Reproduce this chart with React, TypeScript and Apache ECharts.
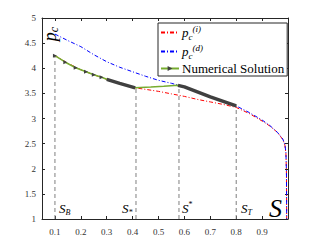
import React, { useEffect, useRef } from "react";
import * as echarts from "echarts";

const xTicks = [0.1, 0.2, 0.3, 0.4, 0.5, 0.6, 0.7, 0.8, 0.9];

const redX = [0.1, 0.15, 0.2, 0.25, 0.3, 0.35, 0.41, 0.45, 0.5, 0.55, 0.6, 0.65, 0.7, 0.75, 0.8, 0.85, 0.9, 0.93, 0.96, 0.98, 0.988, 0.992, 0.994, 0.995];
const redY = [4.25, 4.1, 3.97, 3.87, 3.78, 3.7, 3.61, 3.58, 3.54, 3.49, 3.44, 3.38, 3.33, 3.28, 3.22, 3.1, 2.95, 2.85, 2.72, 2.58, 2.47, 2.3, 1.9, 1.0];

const blueX = [0.1, 0.15, 0.2, 0.25, 0.3, 0.35, 0.4, 0.45, 0.5, 0.55, 0.6, 0.65, 0.7, 0.75, 0.8, 0.85, 0.9, 0.93, 0.96, 0.98, 0.988, 0.992, 0.994, 0.995];
const blueY = [4.68, 4.55, 4.43, 4.27, 4.13, 4.02, 3.93, 3.84, 3.76, 3.7, 3.63, 3.53, 3.43, 3.34, 3.25, 3.12, 2.97, 2.86, 2.72, 2.59, 2.48, 2.32, 1.95, 1.0];

const numX = [0.1, 0.14, 0.18, 0.22, 0.25, 0.28, 0.31, 0.35, 0.41, 0.47, 0.52, 0.575, 0.6, 0.65, 0.7, 0.75, 0.8];
const numY = [4.25, 4.12, 4.01, 3.93, 3.87, 3.82, 3.76, 3.7, 3.61, 3.625, 3.64, 3.66, 3.63, 3.53, 3.43, 3.34, 3.25];
const numMarker = [true, true, true, true, true, true, false, false, false, false, false, false, false, false, false, false, false];

const denseX1 = [0.3, 0.35, 0.41];
const denseY1 = [3.78, 3.7, 3.61];
const denseX2 = [0.575, 0.6, 0.65, 0.7, 0.75, 0.8];
const denseY2 = [3.66, 3.63, 3.53, 3.43, 3.34, 3.25];

const guideX = [0.1, 0.413, 0.579, 0.8];
const guideTop = [4.25, 3.61, 3.66, 3.25];

const SERIF = "Liberation Serif, Times New Roman, serif";

export default function App() {
  const ref = useRef<HTMLDivElement>(null);
  useEffect(() => {
    if (!ref.current) return;
    document.body.style.margin = "0";
    const chart = echarts.init(ref.current, null, { renderer: "svg" });
    const axisColor = "#262626";
    const legendRich = {
      p: { fontFamily: SERIF, fontStyle: "italic", fontSize: 13, color: "#000", lineHeight: 17, verticalAlign: "middle" },
      c: { fontFamily: SERIF, fontStyle: "italic", fontSize: 9, color: "#000", lineHeight: 17, verticalAlign: "bottom" },
      s: { fontFamily: SERIF, fontStyle: "italic", fontSize: 9, color: "#000", lineHeight: 17, verticalAlign: "top" },
      t: { fontFamily: SERIF, fontSize: 13, color: "#000", lineHeight: 17, verticalAlign: "middle" },
    };
    const guideSeries = guideX.map((x, i) => ({
      type: "line",
      name: "guide" + i,
      data: [[x, 1], [x, guideTop[i]]],
      symbol: "none",
      lineStyle: { color: "#7f7f7f", width: 1, type: [4, 3] },
      silent: true,
      z: 1,
    }));
    const hiddenMark = { color: "rgba(0,0,0,0)", borderWidth: 0, opacity: 0 };
    const option: any = {
      animation: false,
      backgroundColor: "#fff",
      textStyle: { fontFamily: SERIF },
      grid: { left: 42, top: 18, width: 246, height: 201, containLabel: false },
      xAxis: [
        {
          type: "value", min: 0.05, max: 1, position: "bottom",
          axisLine: { show: true, lineStyle: { color: axisColor, width: 1 } },
          axisTick: { show: true, inside: true, length: 3, customValues: xTicks, lineStyle: { color: axisColor } },
          axisLabel: { show: true, customValues: xTicks, margin: 8, fontFamily: SERIF, fontSize: 9, color: "#333", formatter: (v: number) => String(Math.round(v * 10) / 10) },
          splitLine: { show: false },
        },
        {
          type: "value", min: 0.05, max: 1, position: "top",
          axisLine: { show: true, lineStyle: { color: axisColor, width: 1 } },
          axisTick: { show: true, inside: true, length: 3, customValues: xTicks, lineStyle: { color: axisColor } },
          axisLabel: { show: false },
          splitLine: { show: false },
        },
      ],
      yAxis: [
        {
          type: "value", min: 1, max: 5, interval: 0.5, position: "left",
          axisLine: { show: true, lineStyle: { color: axisColor, width: 1 } },
          axisTick: { show: true, inside: true, length: 3, lineStyle: { color: axisColor } },
          axisLabel: { show: true, margin: 6, fontFamily: SERIF, fontSize: 9, color: "#333" },
          splitLine: { show: false },
        },
        {
          type: "value", min: 1, max: 5, interval: 0.5, position: "right",
          axisLine: { show: true, lineStyle: { color: axisColor, width: 1 } },
          axisTick: { show: true, inside: true, length: 3, lineStyle: { color: axisColor } },
          axisLabel: { show: false },
          splitLine: { show: false },
        },
      ],
      legend: {
        show: true,
        orient: "vertical",
        left: 158,
        top: 23,
        itemWidth: 18,
        itemHeight: 6,
        itemGap: 2,
        padding: [1, 3, 1, 2],
        backgroundColor: "#fff",
        borderColor: axisColor,
        borderWidth: 1,
        selectedMode: false,
        data: [
          { name: "p_c^(i)", itemStyle: hiddenMark },
          { name: "p_c^(d)", itemStyle: hiddenMark },
          { name: "Numerical Solution" },
        ],
        formatter: (name: string) => {
          if (name === "p_c^(i)") return "{p|p}{c|c}{s|(i)}";
          if (name === "p_c^(d)") return "{p|p}{c|c}{s|(d)}";
          return "{t|Numerical Solution}";
        },
        textStyle: { fontFamily: SERIF, rich: legendRich, padding: [0, 0, 0, -2] },
      },
      graphic: [
        {
          type: "text", x: 50, y: 34, rotation: Math.PI / 2, z: 10,
          style: {
            text: "{p|p}{c|c}", align: "center", verticalAlign: "middle",
            rich: {
              p: { fontFamily: SERIF, fontStyle: "italic", fontSize: 18, fill: "#000", lineHeight: 20, verticalAlign: "middle" },
              c: { fontFamily: SERIF, fontStyle: "italic", fontSize: 12, fill: "#000", lineHeight: 20, verticalAlign: "bottom" },
            },
          },
        },
        ...[
          { x: 59, y: 208, s: "B", sup: false },
          { x: 122, y: 208, s: "*", sup: false },
          { x: 182, y: 208, s: "*", sup: true },
          { x: 241, y: 208, s: "T", sup: false },
        ].map((l) => ({
          type: "text", x: l.x, y: l.y, z: 10,
          style: {
            text: `{S|S}{${l.sup ? "u" : "d"}|${l.s}}`, align: "left", verticalAlign: "middle",
            rich: {
              S: { fontFamily: SERIF, fontStyle: "italic", fontSize: 13, fill: "#000", lineHeight: 16, verticalAlign: "middle" },
              d: { fontFamily: SERIF, fontStyle: "italic", fontSize: 8, fill: "#000", lineHeight: 16, verticalAlign: "bottom" },
              u: { fontFamily: SERIF, fontSize: 8, fill: "#000", lineHeight: 16, verticalAlign: "top" },
            },
          },
        })),
        {
          type: "text", x: 269, y: 208, z: 10,
          style: { text: "S", fontFamily: SERIF, fontStyle: "italic", fontSize: 26, fill: "#000", align: "left", verticalAlign: "middle" },
        },
      ],
      series: [
        ...guideSeries,
        {
          type: "line", name: "p_c^(i)",
          data: redX.map((x, i) => [x, redY[i]]),
          symbol: "none",
          lineStyle: { color: "#ff0000", width: 1, type: [4, 2, 1, 2] },
          itemStyle: { color: "#ff0000" },
          z: 2,
        },
        {
          type: "line", name: "p_c^(d)",
          data: blueX.map((x, i) => [x, blueY[i]]),
          symbol: "none",
          lineStyle: { color: "#0000ff", width: 1, type: [4, 2, 1, 2] },
          itemStyle: { color: "#0000ff" },
          z: 2,
        },
        {
          type: "line", name: "Numerical Solution",
          data: numX.map((x, i) => (numMarker[i] ? { value: [x, numY[i]] } : { value: [x, numY[i]], symbol: "none" })),
          symbol: "triangle", symbolSize: 4, symbolRotate: -90, showSymbol: true,
          lineStyle: { color: "#77ac30", width: 1.5 },
          itemStyle: { color: "#404040" },
          z: 3,
        },
        {
          type: "line", name: "dense",
          data: [...denseX1.map((x, i) => [x, denseY1[i]]), null, ...denseX2.map((x, i) => [x, denseY2[i]])],
          symbol: "none", connectNulls: false,
          lineStyle: { color: "#404040", width: 3.5 },
          z: 4,
        },
      ],
    };
    chart.setOption(option);
    return () => chart.dispose();
  }, []);
  return <div ref={ref} style={{ width: 320, height: 247 }} />;
}
